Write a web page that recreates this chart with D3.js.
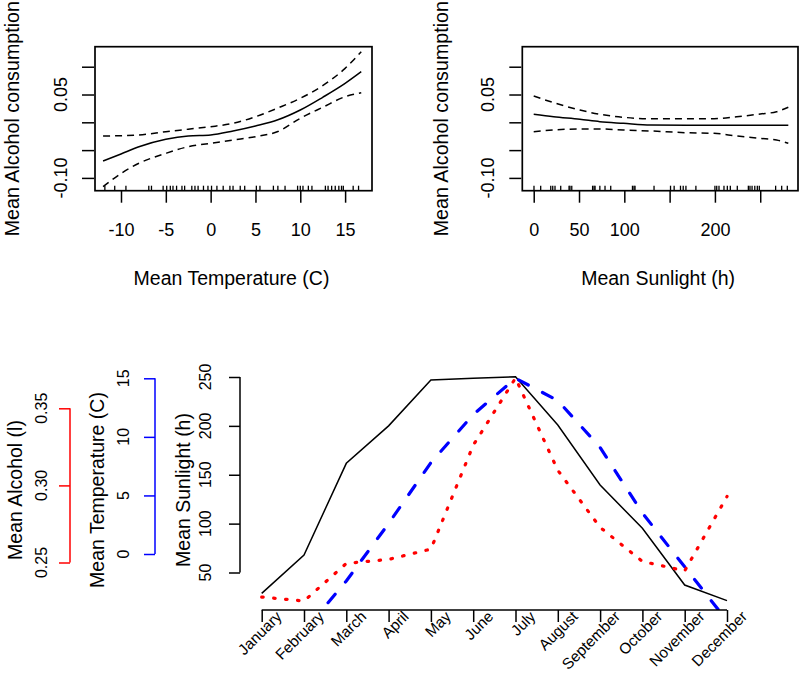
<!DOCTYPE html>
<html><head><meta charset="utf-8">
<script src="https://cdn.jsdelivr.net/npm/d3@7"></script>
<style>
body{margin:0;background:#fff;}
svg text{font-family:"Liberation Sans",Arial,sans-serif;fill:#000;}
</style></head><body>
<svg id="c" width="800" height="673"></svg>
<script>
// ---------- DATA ----------
// Top-left: GAM smooth of alcohol consumption vs mean temperature
const tempGrid  = [-12, -10, -8, -5, -2.5, 0, 2.5, 5, 7.5, 10, 12.5, 15, 16.8];
const tempFit   = [-0.0696, -0.057, -0.044, -0.0306, -0.0245, -0.0228, -0.0156, -0.0066, 0.0045, 0.0221, 0.045, 0.070, 0.091];
const tempUpper = [-0.0246, -0.024, -0.0228, -0.0169, -0.0124, -0.0079, -0.0018, 0.010, 0.0258, 0.0432, 0.066, 0.097, 0.127];
const tempLower = [-0.1158, -0.092, -0.0737, -0.0558, -0.0439, -0.0378, -0.0318, -0.0259, -0.0165, 0.0072, 0.027, 0.046, 0.053];
const tempRug   = [-11.8, -10.7, -9.45, -6.9, -6.6, -5.3, -4.9, -4.5, -4.2, -3.8, -3.2, -2.9, -2.1, -1.75, -1.4, -0.8, -0.3, 0.1, 0.7, 1.4, 2.15, 2.5, 3.3, 3.8, 5.1, 5.5, 7.0, 7.5, 8.3, 9.7, 10.0, 10.3, 10.9, 11.3, 12.8, 13.1, 13.5, 13.9, 14.3, 14.6, 14.8, 15.9, 16.5];
const tempTicks = [-10, -5, 0, 5, 10, 15];

// Top-right: GAM smooth vs mean sunlight
const sunGrid  = [0, 22, 51, 73, 99, 129, 169, 199, 224, 250, 268, 281];
const sunFit   = [0.0144, 0.010, 0.0054, 0.0011, -0.0018, -0.0049, -0.0054, -0.0054, -0.0054, -0.0054, -0.0054, -0.0054];
const sunUpper = [0.0473, 0.0353, 0.0221, 0.0144, 0.009, 0.0065, 0.0065, 0.0065, 0.0101, 0.0149, 0.0191, 0.027];
const sunLower = [-0.0169, -0.0138, -0.012, -0.012, -0.0138, -0.0156, -0.0187, -0.0198, -0.0246, -0.0288, -0.0318, -0.0378];
const sunRug   = [0.3, 7.7, 18.8, 21, 23.5, 29.8, 39, 40, 42, 65, 66.6, 67.7, 73, 78.7, 85, 109, 110.7, 111.8, 132.8, 151, 155, 162, 165, 168, 179, 200, 202, 204.5, 210, 213.7, 217, 224.7, 236.9, 238.7, 241, 244, 246.8, 249, 267, 273.7, 279.9];
const sunTicks = [0, 50, 100, 150, 200, 250];
const sunTickLabels = ["0", "50", "100", "", "200", ""];

const effTicks = [-0.10, -0.05, 0.00, 0.05, 0.10];
const effTickLabels = ["-0.10", "", "", "0.05", ""];

// Bottom: monthly profiles
const months = ["January","February","March","April","May","June","July","August","September","October","November","December"];
const sunlight    = [28.7, 67.9, 161.7, 200, 246.9, 248.7, 250.3, 200.9, 139.5, 95.2, 37.2, 21.2];
const temperature = [-7.5, -6.6, -2.3, 2.6, 7.8, 11.9, 15.0, 13.1, 9.1, 3.5, -1.1, -5.7];
const alcohol     = [0.2276, 0.2250, 0.2494, 0.2520, 0.2587, 0.326, 0.3696, 0.3098, 0.2728, 0.2507, 0.2446, 0.2928];
const sunAxisTicks  = [50, 100, 150, 200, 250];
const tempAxisTicks = [0, 5, 10, 15];
const alcAxisTicks  = [0.25, 0.30, 0.35];

// ---------- DRAW ----------
const svg = d3.select("#c");
const FONT_T = 19.5, FONT_TK = 18, FONT_B = 16, FONT_M = 15.3;

function smoothPanel(opts){
  const {x, y, grid, fit, upper, lower, rug, xt, xtl, title, ylabX, ytitleX} = opts;
  const g = svg.append("g");
  const [x0,x1] = x.range(), [y0,y1] = y.range();
  const clipId = "clip" + Math.round(x0);
  svg.append("clipPath").attr("id", clipId).append("rect")
     .attr("x", x0).attr("y", y1).attr("width", x1-x0).attr("height", y0-y1);
  const line = d3.line().x(d=>x(d[0])).y(d=>y(d[1])).curve(d3.curveMonotoneX);
  const cg = g.append("g").attr("clip-path", `url(#${clipId})`);
  cg.append("path").attr("d", line(grid.map((v,i)=>[v,fit[i]])))
    .attr("fill","none").attr("stroke","#000").attr("stroke-width",1.5);
  [upper, lower].forEach(arr=>{
    cg.append("path").attr("d", line(grid.map((v,i)=>[v,arr[i]])))
      .attr("fill","none").attr("stroke","#000").attr("stroke-width",1.5)
      .attr("stroke-dasharray","7,5");
  });
  // rug
  g.selectAll(null).data(rug).enter().append("line")
    .attr("x1", d=>x(d)).attr("x2", d=>x(d))
    .attr("y1", y0).attr("y2", y0-5)
    .attr("stroke","#000").attr("stroke-width",1.3);
  // box
  g.append("rect").attr("x", x0).attr("y", y1).attr("width", x1-x0).attr("height", y0-y1)
    .attr("fill","none").attr("stroke","#000").attr("stroke-width",1.7);
  // x axis
  const ax = g.append("g").attr("transform", `translate(0,${y0})`)
    .call(d3.axisBottom(x).tickValues(xt).tickSize(12).tickSizeOuter(0)
      .tickPadding(21).tickFormat((d,i)=>xtl[i]));
  ax.select(".domain").remove();
  ax.selectAll("line").attr("stroke","#000").attr("stroke-width",1.5);
  ax.selectAll("text").attr("font-size", FONT_TK).attr("font-family",null);
  // y axis
  const ay = g.append("g").attr("transform", `translate(${x0-1},0)`)
    .call(d3.axisLeft(y).tickValues(effTicks).tickSize(12).tickSizeOuter(0).tickFormat(""));
  ay.select(".domain").remove();
  ay.selectAll("line").attr("stroke","#000").attr("stroke-width",1.5);
  g.selectAll(null).data(effTicks).enter().append("text")
    .attr("transform", d=>`translate(${ylabX},${y(d)}) rotate(-90)`)
    .attr("text-anchor","middle").attr("dy","0.35em")
    .attr("font-size", FONT_TK).text((d,i)=>effTickLabels[i]);
  // titles
  g.append("text").attr("x", (x0+x1)/2 - 2).attr("y", 285)
    .attr("text-anchor","middle").attr("font-size", FONT_T).text(title);
  g.append("text").attr("transform", `translate(${ytitleX},1) rotate(-90)`)
    .attr("text-anchor","end").attr("dy","0.35em").attr("font-size", 19.7)
    .text("Mean Alcohol consumption");
}

const yEff1 = d3.scaleLinear().domain([-0.123, 0.136]).range([190.7, 46.7]);
smoothPanel({
  x: d3.scaleLinear().domain([-12.9, 18.0]).range([95, 372]),
  y: yEff1, grid: tempGrid, fit: tempFit, upper: tempUpper, lower: tempLower,
  rug: tempRug, xt: tempTicks, xtl: tempTicks.map(String),
  title: "Mean Temperature (C)", ylabX: 61, ytitleX: 12.5
});
smoothPanel({
  x: d3.scaleLinear().domain([-12.6, 291.7]).range([522.3, 798]),
  y: yEff1, grid: sunGrid, fit: sunFit, upper: sunUpper, lower: sunLower,
  rug: sunRug, xt: sunTicks, xtl: sunTickLabels,
  title: "Mean Sunlight (h)", ylabX: 487.5, ytitleX: 441
});

// ---------- bottom panel ----------
const xM = d3.scaleLinear().domain([0, 11]).range([261.7, 727]);
const plotL = 240, plotR = xM(11.44), plotT = 368, plotB = 610;
const ySun  = d3.scaleLinear().domain([50, 250]).range([572.5, 377]);
const yTemp = d3.scaleLinear().domain([0, 15]).range([554, 378.3]);
const yAlc  = d3.scaleLinear().domain([0.25, 0.35]).range([562.5, 408.3]);

svg.append("clipPath").attr("id","clipB").append("rect")
  .attr("x", plotL).attr("y", plotT).attr("width", plotR-plotL).attr("height", plotB-plotT);
const bg = svg.append("g").attr("clip-path","url(#clipB)");
const mline = (ys, arr) => d3.line().x((d,i)=>xM(i)).y(d=>ys(d))(arr);
bg.append("path").attr("d", mline(ySun, sunlight)).attr("fill","none")
  .attr("stroke","#000").attr("stroke-width",1.5);
bg.append("path").attr("d", mline(yTemp, temperature)).attr("fill","none")
  .attr("stroke","#0000ff").attr("stroke-width",3.2).attr("stroke-linecap","round")
  .attr("stroke-dasharray","11,16");
bg.append("path").attr("d", mline(yAlc, alcohol)).attr("fill","none")
  .attr("stroke","#ff0000").attr("stroke-width",3.2).attr("stroke-linecap","round")
  .attr("stroke-dasharray","1.5,10.5");

// x axis (months)
const axM = svg.append("g").attr("transform", `translate(0,${plotB})`)
  .call(d3.axisBottom(xM).tickValues(d3.range(12)).tickSize(12).tickSizeOuter(0).tickFormat(""));
axM.select(".domain").attr("d", `M${xM(0)},0H${xM(11)}`).attr("stroke","#000").attr("stroke-width",1.5);
axM.selectAll("line").attr("stroke","#000").attr("stroke-width",1.5);
svg.selectAll(null).data(months).enter().append("text")
  .attr("transform", (d,i)=>`translate(${xM(i)+21},617.5) rotate(-45)`)
  .attr("text-anchor","end").attr("font-size", FONT_M).text(d=>d);

// left axes
function leftAxis(scale, ticks, xPos, color, labX, titleX, title, fmt){
  const a = svg.append("g").attr("transform", `translate(${xPos},0)`)
    .call(d3.axisLeft(scale).tickValues(ticks).tickSize(11).tickSizeOuter(0).tickFormat(""));
  a.select(".domain").attr("d", `M0,${scale(ticks[0])}V${scale(ticks[ticks.length-1])}`)
    .attr("stroke", color).attr("stroke-width",1.5);
  a.selectAll("line").attr("stroke", color).attr("stroke-width",1.5);
  svg.selectAll(null).data(ticks).enter().append("text")
    .attr("transform", d=>`translate(${labX},${scale(d)}) rotate(-90)`)
    .attr("text-anchor","middle").attr("dy","0.35em").attr("font-size", FONT_B)
    .text(d=>fmt(d));
  svg.append("text").attr("transform", `translate(${titleX},490) rotate(-90)`)
    .attr("text-anchor","middle").attr("dy","0.35em").attr("font-size", FONT_T).text(title);
}
leftAxis(ySun, sunAxisTicks, 240, "#000", 205.5, 183, "Mean Sunlight (h)", d3.format("d"));
leftAxis(yTemp, tempAxisTicks, 155, "#0000ff", 123, 97.5, "Mean Temperature (C)", d3.format("d"));
leftAxis(yAlc, alcAxisTicks, 70, "#ff0000", 41, 15, "Mean Alcohol (l)", d3.format(".2f"));
</script>
</body></html>
